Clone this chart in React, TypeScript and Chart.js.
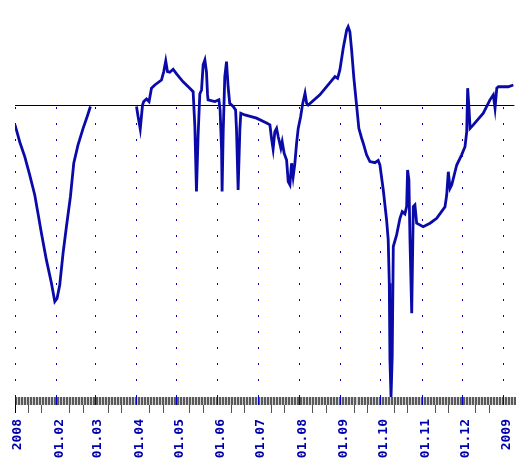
import React, { useEffect, useRef } from 'react';
import { Chart, registerables } from 'chart.js';

Chart.register(...registerables);

// Month starts (days since 1 Jan 2008) and their labels
const monthStartDays = [0, 31, 60, 91, 121, 152, 182, 213, 244, 274, 305, 335, 366];
const monthLabels = ['2008', '01.02', '01.03', '01.04', '01.05', '01.06', '01.07', '01.08', '01.09', '01.10', '01.11', '01.12', '2009'];
// 10th and 20th of each month (minor ticks)
const minorTickDays = [10, 20, 41, 51, 70, 80, 101, 111, 131, 141, 162, 172, 192, 202, 223, 233, 254, 264, 284, 294, 315, 325, 345, 355];

// Series: day offset and value (null = no data)
const days = [
  0, 3.5, 7.3, 11.0, 14.8, 17.2, 19.8, 23.5, 27.3, 29.8,
  31.5, 33.5, 36.0, 38.5, 41.5, 44.0, 47.2, 51.0, 54.0, 56.5,
  74,
  91.0, 92.2, 93.8, 95.5, 96.4, 98.5, 100.4, 102.2, 104.7, 109.7,
  111.4, 112.9, 114.2, 115.9, 118.4, 121.0, 125.9, 130.9, 133.4, 134.7,
  135.9, 137.1, 138.4, 139.7, 140.9, 142.2, 143.4, 144.2, 144.6, 149.7,
  152.7, 153.6, 154.7, 155.1, 155.9, 157.1, 158.4, 159.6, 160.8, 163.4,
  165.2, 165.9, 167.1, 168.4, 169.1, 172.1, 180.9, 188.4, 190.9, 192.1,
  193.3, 194.6, 195.9, 197.1, 199.1, 200.1, 201.6, 203.4, 204.6, 205.9,
  207.1, 208.3, 209.6, 210.9, 212.1, 213.9, 215.4, 217.2, 218.4, 219.6,
  228.3, 239.6, 241.6, 243.3, 245.8, 248.4, 249.5, 250.8, 252.1, 253.8,
  255.8, 257.5, 259.6, 260.8, 263.3, 265.8, 269.6, 272.0, 273.3, 275.8,
  278.3, 279.5, 280.3, 280.8, 281.6, 282.5, 283.3, 285.8, 288.3, 290.0,
  292.0, 293.3, 294.0, 295.0, 295.8, 297.1, 298.3, 299.5, 300.8, 305.7,
  310.8, 315.8, 322.0, 323.3, 324.5, 325.8, 327.1, 330.8, 334.5, 337.0,
  338.3, 339.0, 340.0, 340.8, 343.2, 350.7, 355.7, 358.2, 359.5, 360.8,
  362.0, 369.4, 373.2,
];
const values: (number | null)[] = [
  -6.5, -12.3, -17.4, -23.7, -30.6, -36.9, -43.7, -52.9, -60.9, -67.2,
  -66.1, -61.5, -50.6, -41.5, -31.2, -19.7, -13.4, -7.7, -3.7, -0.2,
  null,
  -0.2, -3.7, -7.9, 0.3, 1.5, 2.4, 1.5, 6.1, 7.2, 8.9,
  11.8, 15.5, 11.8, 11.6, 12.6, 11.0, 8.3, 6.1, 4.9, -7.1,
  -29.4, -10.5, 4.1, 5.5, 14.1, 15.8, 11.7, 3.8, 2.1, 1.5,
  2.1, -1.4, -15.1, -29.4, -9.4, 10.0, 15.2, 6.6, 0.9, -0.2,
  -1.4, -8.2, -28.9, -8.2, -2.5, -3.1, -4.2, -5.9, -6.5, -11.1,
  -14.8, -8.8, -7.7, -10.5, -14.5, -12.3, -16.3, -18.6, -26.0, -27.1,
  -19.7, -24.3, -19.7, -12.7, -7.7, -3.7, 0.7, 4.4, 0.9, 0.3,
  3.8, 10.1, 9.5, 12.4, 19.8, 26.1, 27.2, 25.5, 19.2, 9.5,
  0.3, -7.7, -11.1, -12.8, -16.8, -19.1, -19.5, -18.7, -20.3, -28.9,
  -39.2, -46.0, -60.9, -87.3, -100, -86.1, -48.3, -44.3, -38.6, -36.3,
  -37.1, -34.6, -22.0, -25.4, -46.0, -71.2, -34.6, -34.0, -40.3, -41.5,
  -40.3, -38.6, -34.7, -30.6, -22.6, -28.3, -27.1, -20.3, -16.8, -14.0,
  -8.8, 6.1, -0.8, -7.7, -6.5, -2.5, 2.1, 3.8, -0.8, 6.1,
  6.6, 6.6, 7.2,
];

const Y_MIN = -100;
const Y_MAX = 36.4;
const X_MAX = 374;
const BAND_STEP = 2.25;

const LINE_BLUE = '#0a0aa8';
const GRID_BLUE = '#0000c8';
const LABEL_BLUE = '#0000aa';

const axisDecor = {
  id: 'axisDecor',
  beforeDatasetsDraw(chart: any) {
    const { ctx, chartArea, scales } = chart;
    const xs = scales.x;
    const ys = scales.y;
    const bottom = Math.round(chartArea.bottom);
    const zeroY = Math.round(ys.getPixelForValue(0));
    ctx.save();
    // dotted month lines in the negative region
    ctx.fillStyle = GRID_BLUE;
    for (const d of monthStartDays) {
      const x = Math.floor(xs.getPixelForValue(d));
      for (let y = zeroY + 1; y < bottom - 1; y += 16) ctx.fillRect(x, y, 1, 2);
    }
    // tick band under the plot
    ctx.fillStyle = '#d0d0d0';
    ctx.fillRect(chartArea.left, bottom, chartArea.right - chartArea.left, 8);
    ctx.fillStyle = '#5a5a5a';
    for (let d = 0; d <= X_MAX; d += BAND_STEP) {
      const x = Math.round(xs.getPixelForValue(d));
      ctx.fillRect(x, bottom, 2, 8);
    }
    ctx.fillStyle = GRID_BLUE;
    for (const d of monthStartDays) {
      const x = Math.floor(xs.getPixelForValue(d));
      ctx.fillRect(x, bottom, 1, 8);
    }
    ctx.restore();
  },
};

export default function App() {
  const ref = useRef<HTMLCanvasElement | null>(null);
  useEffect(() => {
    if (!ref.current) return;
    const points = days.map((d, i) => ({ x: d, y: values[i] }));
    const chart = new Chart(ref.current, {
      type: 'line',
      data: {
        datasets: [
          {
            data: points as any,
            borderColor: LINE_BLUE,
            borderWidth: 2.8,
            pointRadius: 0,
            tension: 0,
            spanGaps: false,
          },
        ],
      },
      options: {
        responsive: false,
        animation: false,
        devicePixelRatio: 1,
        layout: { padding: { left: 0, right: 14.6, top: 0, bottom: 0 } },
        plugins: { legend: { display: false }, tooltip: { enabled: false } },
        scales: {
          x: {
            type: 'linear',
            position: 'bottom',
            min: 0,
            max: X_MAX,
            afterBuildTicks: (axis: any) => {
              axis.ticks = [...monthStartDays, ...minorTickDays]
                .sort((a, b) => a - b)
                .map((v) => ({ value: v }));
            },
            afterFit: (axis: any) => {
              axis.height = 79;
            },
            border: { display: false },
            grid: {
              drawOnChartArea: false,
              tickLength: 16,
              tickWidth: 1,
              tickColor: (ctx: any) => {
                const v = ctx.tick ? ctx.tick.value : -1;
                if (v === 0) return '#000000';
                return monthStartDays.includes(v) ? 'rgba(0,0,0,0)' : '#555555';
              },
            },
            ticks: {
              autoSkip: false,
              maxRotation: 90,
              minRotation: 90,
              padding: 6,
              labelOffset: 3,
              color: LABEL_BLUE,
              font: { family: '"DejaVu Sans Mono", monospace', size: 13, weight: 'bold' },
              callback: (value: any) => {
                const i = monthStartDays.indexOf(Number(value));
                return i >= 0 ? monthLabels[i] : '';
              },
            },
          },
          y: {
            type: 'linear',
            min: Y_MIN,
            max: Y_MAX,
            afterBuildTicks: (axis: any) => {
              axis.ticks = [{ value: 0 }];
            },
            afterFit: (axis: any) => {
              axis.width = 15;
            },
            border: { display: false },
            grid: {
              drawTicks: false,
              lineWidth: 1,
              color: (ctx: any) => (ctx.tick && ctx.tick.value === 0 ? '#000000' : 'rgba(0,0,0,0)'),
            },
            ticks: { display: false },
          },
        },
      },
      plugins: [axisDecor],
    });
    return () => chart.destroy();
  }, []);
  return (
    <div style={{ position: 'absolute', left: 0, top: 0, width: 529, height: 476 }}>
      <canvas ref={ref} width={529} height={476} style={{ display: 'block', width: 529, height: 476 }} />
    </div>
  );
}
